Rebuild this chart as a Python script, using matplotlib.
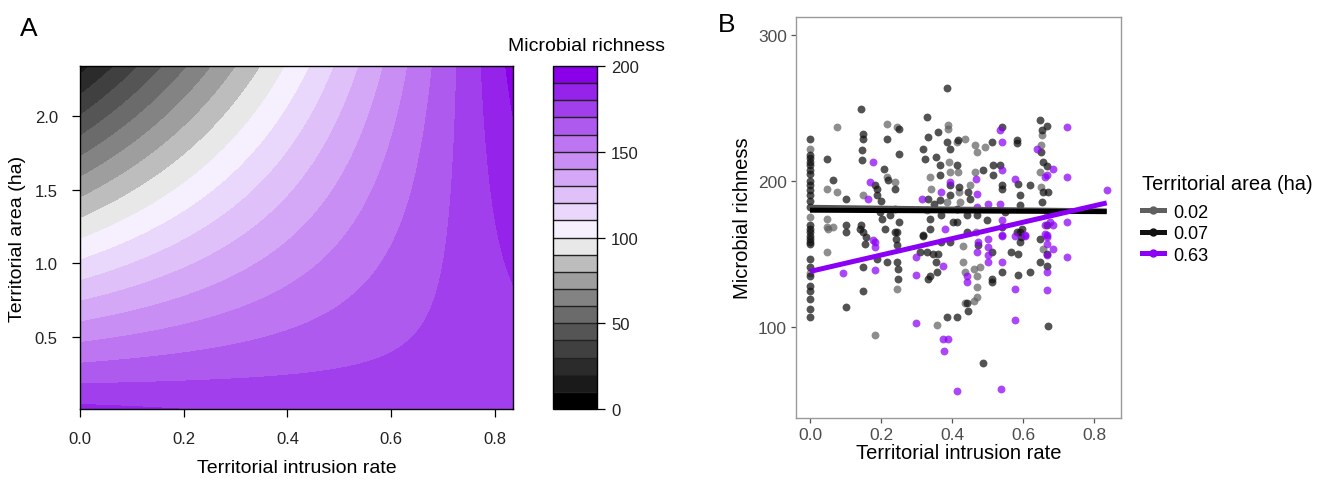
import numpy as np
import matplotlib

matplotlib.use("Agg")
import matplotlib.pyplot as plt
from matplotlib.lines import Line2D
from matplotlib.ticker import FormatStrFormatter

plt.rcParams["font.family"] = ["Liberation Sans", "DejaVu Sans"]

# ---- Panel A: fitted response surface (coefficients) ----
rate_range = (0.0, 0.835)
area_range = (0.011, 2.34)
intercept = 183.0
area_coef = -71.4
rate_coef = -12.6
interaction_coef = 96.0
richness_levels = list(range(0, 201, 10))
cbar_ticks = [0, 50, 100, 150, 200]
palette = [
    "#000000", "#1a1a1a", "#2b2b2b", "#404040", "#555555",
    "#6b6b6b", "#838383", "#9e9e9e", "#bdbdbd", "#e8e8e8",
    "#f6effe", "#ead8fc", "#dfc0f9", "#d4a8f6", "#c98ef4",
    "#bd75f1", "#af5aee", "#a23fec", "#9523ea", "#8a00e8",
]

# ---- Panel B: observed points per territorial area group ----
grey_x = [0, 0.047, 0.047, 0.047, 0.064, 0.077, 0.077, 0.15, 0.216, 0.216, 0.239, 0.244,
          0.338, 0.34, 0.389, 0.389, 0.392, 0.394, 0.385, 0.413, 0.417, 0.42, 0.422, 0.436,
          0.464, 0.469, 0.464, 0.467, 0.492, 0.652, 0.647, 0.666,
          0.047, 0.052, 0.183, 0.244, 0.358, 0.431, 0.431, 0.436, 0.436, 0.462, 0.462,
          0.469, 0.471, 0.469, 0.478, 0.657,
          0, 0, 0.65, 0.65, 0.33, 0.45]
grey_y = [221.7, 194.3, 174.2, 168.5, 168.5, 237, 192.5, 190.2, 239.3, 202.7, 199.3, 237,
          202.7, 194.3, 238.1, 235.8, 213, 206.2, 185.6, 226.7, 206.2, 192.5, 185.6, 229,
          224.4, 219.9, 206.2, 165.1, 223.3, 231.3, 206.2, 178.8,
          151.1, 167.1, 94.1, 126, 101.4, 155.7, 144.3, 137.4, 116.4, 118, 139.7,
          127.2, 120.3, 135.2, 140.9, 153.4,
          175, 137, 225, 196, 180, 197]

black_x = [0, 0, 0, 0, 0, 0, 0, 0, 0, 0, 0, 0, 0, 0, 0.047, 0.064, 0.10, 0.10, 0.143,
           0.15, 0.15, 0.145, 0.145, 0.143, 0.15, 0.158, 0.183, 0.188, 0.188, 0.197, 0.202,
           0.208, 0.218, 0.22, 0.225, 0.211, 0.239, 0.25, 0.25, 0.239, 0.244, 0.244, 0.328,
           0.319, 0.324, 0.333, 0.333, 0.338, 0.338, 0.317, 0.361, 0.356, 0.366, 0.366,
           0.366, 0.37, 0.385, 0.394, 0.385, 0.394, 0.394, 0.403, 0.417, 0.415, 0.413,
           0.413, 0.446, 0.45, 0.441, 0.441, 0.469, 0.474, 0.488, 0.497, 0.511, 0.514,
           0.516, 0.539, 0.536, 0.539, 0.539, 0.539, 0.549, 0.582, 0.582, 0.586, 0.591,
           0.591, 0.596, 0.593, 0.582, 0.619, 0.647, 0.652, 0.649, 0.657, 0.657, 0.671,
           0.652,
           0, 0, 0, 0, 0, 0, 0, 0, 0, 0.10, 0.10, 0.141, 0.155, 0.15, 0.15, 0.188, 0.216,
           0.239, 0.242, 0.244, 0.249, 0.249, 0.31, 0.319, 0.328, 0.333, 0.338, 0.345,
           0.356, 0.358, 0.361, 0.385, 0.394, 0.415, 0.441, 0.446, 0.486, 0.511, 0.511,
           0.511, 0.539, 0.567, 0.586, 0.586, 0.591, 0.591, 0.619, 0.647, 0.647, 0.666,
           0.671,
           0, 0, 0, 0, 0, 0.666, 0.666, 0.666, 0.666, 0.35, 0.37, 0.42, 0.25, 0.2]
black_y = [229, 215.8, 213, 210.7, 207.3, 205, 197, 193.6, 190.2, 182.2, 169.6, 165.1,
           160.5, 157.1, 215.3, 200.5, 187.9, 169.6, 249.5, 232.4, 229, 221, 214.2, 169.6,
           165.1, 161.6, 197, 194.7, 190.2, 178.8, 174.2, 208.4, 229, 200.5, 176.5, 167.4,
           194.7, 235.8, 218.7, 181.1, 165.1, 155.9, 243.8, 222.1, 215.3, 230.1, 187.9,
           174.2, 167.4, 162.8, 233.6, 216.4, 210.7, 203.9, 186.8, 176.5, 263.7, 222.1,
           226.7, 197, 190.2, 171.9, 227.9, 210.7, 181.1, 171.9, 192.5, 187.9, 176.5,
           165.1, 176.5, 155.9, 207.3, 173.1, 226.7, 203.9, 210.7, 237, 210.7, 194.3, 197,
           168.5, 178.8, 227.9, 226, 198.2, 190.2, 183.3, 167.4, 161.6, 165.1, 197.5,
           241.6, 234.7, 220, 213, 192.5, 192.5, 185.6,
           167.1, 162.6, 158, 146.6, 140.9, 124.9, 119.2, 112.3, 106.6, 164.8, 113.5,
           167.1, 156.8, 140.9, 124.9, 146.6, 144.3, 164.8, 160.3, 144.3, 139.7, 132.9,
           151.1, 162.6, 151.1, 132.9, 135.2, 150, 144.3, 137.4, 150, 106.6, 158, 106.6,
           116.4, 110.7, 75.3, 132.9, 130.6, 151.1, 137.4, 151.1, 135.6, 150, 158, 164.8,
           137.4, 144.3, 160.3, 142, 100.9,
           186, 200, 218, 135, 128, 238, 210, 170, 150, 184, 158, 196, 172, 186]

purple_x = [0.178, 0.169, 0.164, 0.178, 0.314, 0.368, 0.38, 0.394, 0.467, 0.469, 0.469,
            0.502, 0.535, 0.539, 0.539, 0.535, 0.539, 0.539, 0.577, 0.605, 0.638, 0.661,
            0.666, 0.675, 0.661, 0.666, 0.685, 0.722, 0.722, 0.722, 0.683, 0.835,
            0.092, 0.183, 0.183, 0.183, 0.297, 0.297, 0.297, 0.375, 0.375, 0.389, 0.378,
            0.441, 0.441, 0.469, 0.474, 0.415, 0.502, 0.502, 0.502, 0.502, 0.539, 0.539,
            0.537, 0.577, 0.577, 0.577, 0.605, 0.661, 0.666, 0.666, 0.666, 0.666, 0.666,
            0.685, 0.722]
purple_y = [213, 199.3, 187.9, 159.4, 187.9, 192.5, 167.4, 199.3, 201.6, 191.3, 182.2,
            184.5, 234.7, 226.7, 207.3, 184.5, 173.1, 162.8, 201.6, 162.8, 222.1, 202.7,
            203.9, 171.9, 169.6, 162.8, 208.4, 237, 202.7, 171.9, 169.6, 193.6,
            136.8, 158, 154.6, 139.3, 147.7, 135.6, 102.5, 142, 91.8, 91.8, 83.3,
            135.2, 130.6, 151.1, 158, 55.9, 160.3, 154.6, 149.3, 144.3, 162.6, 144.3,
            57.5, 162.6, 126, 105, 162.6, 163.7, 161.4, 149.3, 137.4, 125.3, 156.8,
            153.4, 147.7]

# fitted lines: (start, end) richness over the rate range
fit_rate = [0.0, 0.835]
grey_fit = [182.0, 179.5]
black_fit = [180.0, 179.0]
purple_fit = [138.0, 185.0]
group_labels = ["0.02", "0.07", "0.63"]

fig = plt.figure(figsize=(13.22, 4.85), dpi=100)

# ---------------- Panel A ----------------
ax = fig.add_axes([0.0605, 0.1546, 0.3275, 0.7072])
rate = np.linspace(*rate_range, 300)
area = np.linspace(*area_range, 300)
R, A = np.meshgrid(rate, area)
Z = intercept + area_coef * A + rate_coef * R + interaction_coef * A * R
cs = ax.contourf(R, A, Z, levels=richness_levels, colors=palette)
ax.set_xlim(rate_range)
ax.set_ylim(area_range)
ax.set_xticks([0.0, 0.2, 0.4, 0.6, 0.8])
ax.set_yticks([0.5, 1.0, 1.5, 2.0])
ax.xaxis.set_major_formatter(FormatStrFormatter("%.1f"))
ax.yaxis.set_major_formatter(FormatStrFormatter("%.1f"))
ax.tick_params(direction="out", length=6, width=0.9, labelsize=12, pad=10,
               labelcolor="#222222")
for s in ax.spines.values():
    s.set_linewidth(1.0)
ax.set_xlabel("Territorial intrusion rate", fontsize=14, labelpad=9)
ax.set_ylabel("Territorial area (ha)", fontsize=14, labelpad=6)
fig.text(0.015, 0.925, "A", fontsize=19)

cax = fig.add_axes([0.4183, 0.1546, 0.0333, 0.7072])
cb = fig.colorbar(cs, cax=cax, drawedges=True)
cb.set_ticks(cbar_ticks)
cb.outline.set_linewidth(1.0)
cb.dividers.set_linewidth(1.0)
cb.dividers.set_color("#222222")
cax.tick_params(direction="out", length=6, width=0.9, labelsize=12, pad=4,
                labelcolor="#222222")
fig.text(0.444, 0.895, "Microbial richness", fontsize=14, ha="center")

# ---------------- Panel B ----------------
bx = fig.add_axes([0.6021, 0.136, 0.2458, 0.827])
grey_c, black_c, purple_c = "#5f5f5f", "#111111", "#8b00f5"
bx.scatter(grey_x, grey_y, s=32, color=grey_c, alpha=0.7, linewidths=0, zorder=2)
bx.scatter(black_x, black_y, s=32, color=black_c, alpha=0.72, linewidths=0, zorder=2)
bx.scatter(purple_x, purple_y, s=32, color=purple_c, alpha=0.72, linewidths=0, zorder=2)
bx.plot(fit_rate, grey_fit, color="#555555", lw=3.6, solid_capstyle="butt", zorder=3)
bx.plot(fit_rate, black_fit, color="#000000", lw=3.6, solid_capstyle="butt", zorder=3)
bx.plot(fit_rate, purple_fit, color="#8b00f5", lw=3.6, solid_capstyle="butt", zorder=3)
bx.set_xlim(-0.0394, 0.875)
bx.set_ylim(37.5, 312.5)
bx.set_xticks([0.0, 0.2, 0.4, 0.6, 0.8])
bx.set_yticks([100, 200, 300])
bx.xaxis.set_major_formatter(FormatStrFormatter("%.1f"))
for s in bx.spines.values():
    s.set_color("#9a9a9a")
    s.set_linewidth(1.0)
bx.tick_params(direction="out", length=3.5, width=0.9, color="#555555",
               labelcolor="#4d4d4d", labelsize=12.5, pad=3)
bx.set_xlabel("Territorial intrusion rate", fontsize=14.5, labelpad=1)
bx.set_ylabel("Microbial richness", fontsize=14.5, labelpad=4)
fig.text(0.543, 0.935, "B", fontsize=19)

handles = [
    Line2D([], [], color=grey_c, lw=3.6, marker="o", markersize=5),
    Line2D([], [], color=black_c, lw=3.6, marker="o", markersize=5),
    Line2D([], [], color=purple_c, lw=3.6, marker="o", markersize=5),
]
fig.text(0.864, 0.608, "Territorial area (ha)", fontsize=14.5)
fig.legend(handles, group_labels, loc="upper left",
           bbox_to_anchor=(0.864, 0.578), frameon=False, fontsize=13,
           handlelength=1.2, handletextpad=0.5, labelspacing=0.25,
           borderaxespad=0, borderpad=0)

fig.savefig("out.png", dpi=100)
